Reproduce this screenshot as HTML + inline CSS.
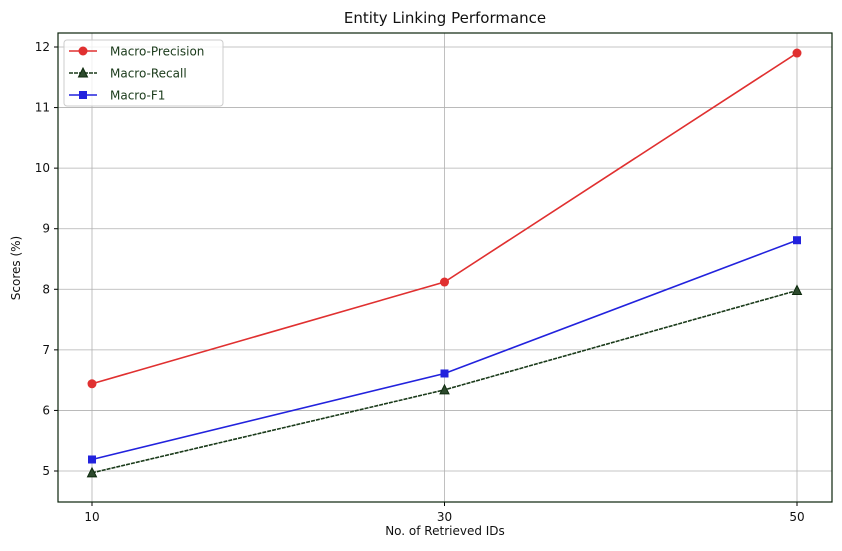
<!DOCTYPE html>
<html><head><meta charset="utf-8"><style>
body{margin:0;background:#fff;font-family:"DejaVu Sans","Liberation Sans",sans-serif;}
</style></head><body>
<svg id="chart" width="842" height="547" xmlns="http://www.w3.org/2000/svg" font-family="DejaVu Sans, Liberation Sans, sans-serif">
<g id="grid"></g>
<g id="axes"></g>
<g id="series"></g>
<text x="445" y="23" text-anchor="middle" font-size="15" fill="#111">Entity Linking Performance</text>
<text x="445" y="535" text-anchor="middle" font-size="12" fill="#111">No. of Retrieved IDs</text>
<text x="20" y="268" text-anchor="middle" font-size="12" fill="#111" transform="rotate(-90 20 268)">Scores (%)</text>
<g>
<rect x="64" y="40" width="159" height="66" fill="#fff" fill-opacity="0.8" stroke="#ccc" rx="3"/>
<g id="legend-items"></g>
</g>
</svg>
<script>
const categories=[10,30,50];
const precision=[6.44,8.12,11.9];
const recall=[4.97,6.34,7.98];
const f1=[5.19,6.61,8.81];
const yTicks=[5,6,7,8,9,10,11,12];
const ns="http://www.w3.org/2000/svg";
const L=58,R=832,T=33,B=502;
const xs=v=>92+(v-10)*(797-92)/40;
const ys=v=>471-(v-5)*(471-47)/7;
function mk(tag,attrs,parent){const e=document.createElementNS(ns,tag);for(const k in attrs)e.setAttribute(k,attrs[k]);parent.appendChild(e);return e;}
const grid=document.getElementById('grid'),axes=document.getElementById('axes'),ser=document.getElementById('series');
categories.forEach(c=>{
 const g=mk('line',{x1:xs(c),x2:xs(c),y1:T,y2:B,stroke:'#b0b0b0','stroke-width':0.8},grid);
 
 
 mk('line',{x1:xs(c),x2:xs(c),y1:B,y2:B+4,stroke:'#000'},axes);
 const t=mk('text',{x:xs(c),y:B+19,'text-anchor':'middle','font-size':12,fill:'#111'},axes);t.textContent=c;
 
 
});
yTicks.forEach(v=>{
 const g=mk('line',{x1:L,x2:R,y1:ys(v),y2:ys(v),stroke:'#b0b0b0','stroke-width':0.8},grid);
 
 
 mk('line',{x1:L-4,x2:L,y1:ys(v),y2:ys(v),stroke:'#000'},axes);
 const t=mk('text',{x:L-8,y:ys(v)+4,'text-anchor':'end','font-size':12,fill:'#111'},axes);t.textContent=v;
 
 
});
const frame=mk('rect',{x:L,y:T,width:R-L,height:B-T,fill:'none',stroke:'#0b230b','stroke-width':1.2},axes);


function marker(type,x,y,color,p){
 if(type==='o')return mk('circle',{cx:x,cy:y,r:4.5,fill:color},p);
 if(type==='s')return mk('rect',{x:x-4,y:y-4,width:8,height:8,fill:color},p);
 return mk('polygon',{points:`${x},${y-5} ${x-4.5},${y+4} ${x+4.5},${y+4}`,fill:'#2d4a2d',stroke:'#0d2a0d'},p);
}
const defs=[['Macro-Precision',precision,'#e03030','o',''],['Macro-Recall',recall,'#1a3a1a','^','4,1'],['Macro-F1',f1,'#2222dd','s','']];
const li=document.getElementById('legend-items');
defs.forEach((d,i)=>{
 const g=mk('g',{},ser);
 
 
 const pts=categories.map((c,j)=>xs(c)+','+ys(d[1][j])).join(' ');
 mk('polyline',{points:pts,fill:'none',stroke:d[2],'stroke-width':1.6,'stroke-dasharray':d[4]},g);
 categories.forEach((c,j)=>{const m=marker(d[3],xs(c),ys(d[1][j]),d[2],g);
  
  });
 const y=51+i*22;
 mk('line',{x1:69,x2:97,y1:y,y2:y,stroke:d[2],'stroke-width':1.6,'stroke-dasharray':d[4]},li);
 marker(d[3],83,y,d[2],li);
 const t=mk('text',{x:110,y:y+4.5,'font-size':12,fill:'#1a3a1a'},li);t.textContent=d[0];
 
 
});
</script>
</body></html>
